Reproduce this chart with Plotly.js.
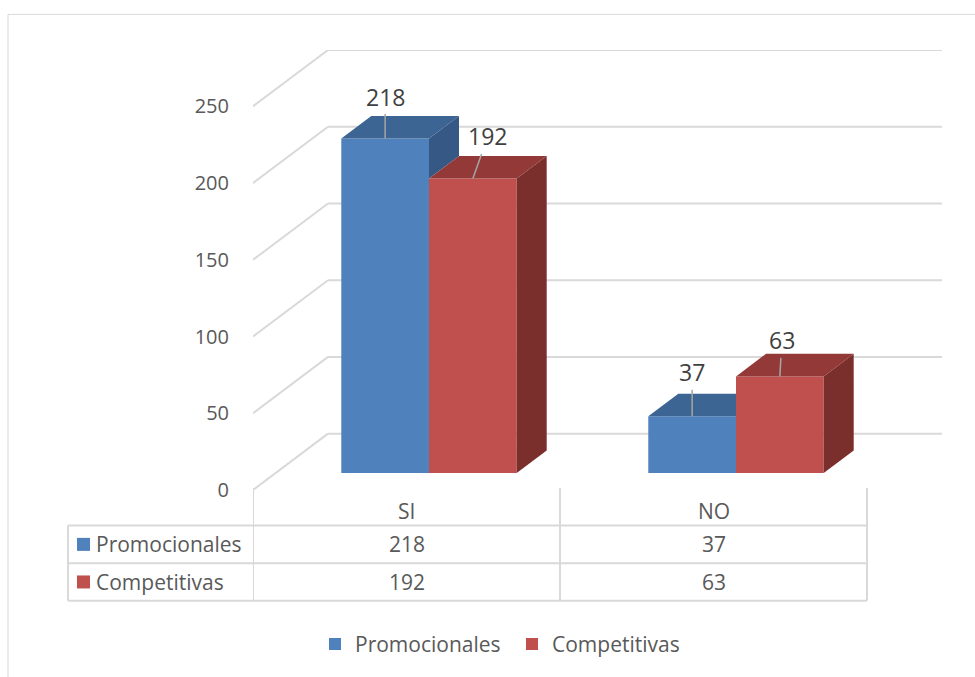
<!DOCTYPE html>
<html>
<head>
<meta charset="utf-8">
<script src="https://cdn.plot.ly/plotly-3.0.1.min.js"></script>
<style>html,body{margin:0;padding:0;background:#fff;}#chart{width:975px;height:677px;}</style>
</head>
<body>
<div id="chart"></div>
<script>
// ---- data ----
const categories = ['SI', 'NO'];
const seriesNames = ['Promocionales', 'Competitivas'];
const promocionales = [218, 37];
const competitivas = [192, 63];
const yTicks = [0, 50, 100, 150, 200, 250];

// ---- style / geometry ----
const seriesValues = [promocionales, competitivas];
const frontColors = ['#4F81BD', '#C0504D'];
const topColors = ['#3D6594', '#933A38'];
const sideColors = ['#355884', '#7B2F2D'];
const GRID = '#D9D9D9';
const TXT = '#595959';
const FONT = 'Open Sans, Noto Sans, sans-serif';
const K = 75 / 307;      // depth shift along x (category units)
const H = 57 / 1.552;    // depth shift along y (value units)
const D1 = 0.3, D2 = 0.7; // bar depth span
const BW = 1 / 3.5;      // bar width (gap width 150%)
const yMax = yTicks[yTicks.length - 1];
const labelOffsets = [[[0, -42], [0, -44]], [[15, -42], [2, -36]]]; // [series][category] (ax, ay)

const traces = [];
const polys = [];
const annotations = [];
const shapes = [];

// back wall & side wall grid (below traces)
yTicks.forEach(v => {
  shapes.push({type: 'line', xref: 'x', yref: 'y', layer: 'below', x0: K, y0: v + H, x1: categories.length + K, y1: v + H, line: {color: GRID, width: 2}});
  shapes.push({type: 'line', xref: 'x', yref: 'y', layer: 'below', x0: 0, y0: v, x1: K, y1: v + H, line: {color: GRID, width: 2}});
});

seriesNames.forEach((name, s) => {
  const xs = categories.map((c, i) => i + 0.5 - BW + s * BW + BW / 2 + D1 * K);
  traces.push({
    type: 'bar', name: name, x: xs, y: seriesValues[s], base: categories.map(() => D1 * H),
    width: BW, marker: {color: frontColors[s], line: {width: 0}}, hoverinfo: 'skip', showlegend: true
  });
});

function poly(pts, color) {
  polys.push({type: 'scatter', mode: 'lines', x: pts.map(p => p[0]).concat([pts[0][0]]), y: pts.map(p => p[1]).concat([pts[0][1]]),
    fill: 'toself', fillcolor: color, line: {width: 0, color: color}, hoverinfo: 'skip', showlegend: false});
}

categories.forEach((c, i) => {
  seriesNames.forEach((name, s) => {
    const v = seriesValues[s][i];
    const x0 = i + 0.5 - BW + s * BW, x1 = x0 + BW;
    const right = s + 1 < seriesNames.length ? seriesValues[s + 1][i] : null;
    // top face (clipped where the neighbour's front face hides it)
    if (right !== null && right > v) {
      poly([[x0 + D1 * K, v + D1 * H], [x1 + D1 * K, v + D1 * H], [x1 + D1 * K, v + D2 * H], [x0 + D2 * K, v + D2 * H]], topColors[s]);
    } else {
      poly([[x0 + D1 * K, v + D1 * H], [x1 + D1 * K, v + D1 * H], [x1 + D2 * K, v + D2 * H], [x0 + D2 * K, v + D2 * H]], topColors[s]);
    }
    // side face (visible part)
    const lo = right === null ? 0 : right;
    if (v > lo) {
      poly([[x1 + D1 * K, lo + D1 * H], [x1 + D2 * K, lo + D2 * H], [x1 + D2 * K, v + D2 * H], [x1 + D1 * K, v + D1 * H]], sideColors[s]);
    }
    // data label
    const off = labelOffsets[s][i];
    annotations.push({xref: 'x', yref: 'y', x: (x0 + x1) / 2 + D1 * K, y: v + D1 * H, text: String(v),
      showarrow: true, arrowhead: 0, arrowwidth: 1.5, arrowcolor: '#A6A6A6', ax: off[0], ay: off[1], standoff: 0,
      font: {family: FONT, size: 23, color: '#404040'}});
  });
});

// ---- data table ----
const plotH = 445, plotW = 689;
const pY = px => (495 - px) / plotH; // pixel row -> paper y
const pX = px => (px - 253) / plotW; // pixel col -> paper x
const rowLines = [531, 569, 607];
rowLines.forEach(r => shapes.push({type: 'line', xref: 'paper', yref: 'paper', x0: pX(68), x1: pX(867), y0: pY(r), y1: pY(r), line: {color: GRID, width: 2}}));
shapes.push({type: 'line', xref: 'paper', yref: 'paper', x0: pX(68), x1: pX(68), y0: pY(531), y1: pY(607), line: {color: GRID, width: 2}});
for (let i = 0; i <= categories.length; i++) {
  shapes.push({type: 'line', xref: 'x', yref: 'paper', x0: i, x1: i, y0: pY(493), y1: pY(607), line: {color: GRID, width: 2}});
}
const headerY = pY(516), rowY = [pY(550), pY(588)];
categories.forEach((c, i) => {
  annotations.push({xref: 'x', yref: 'paper', x: i + 0.5, y: headerY, xanchor: 'center', yanchor: 'middle', text: c, showarrow: false, font: {family: FONT, size: 21, color: TXT}});
  seriesNames.forEach((n, s) => {
    annotations.push({xref: 'x', yref: 'paper', x: i + 0.5, y: rowY[s], xanchor: 'center', yanchor: 'middle', text: String(seriesValues[s][i]), showarrow: false, font: {family: FONT, size: 21, color: TXT}});
  });
});
seriesNames.forEach((n, s) => {
  shapes.push({type: 'rect', xref: 'paper', yref: 'paper', xsizemode: 'pixel', ysizemode: 'pixel', xanchor: pX(83.5), yanchor: rowY[s],
    x0: -6.5, x1: 6.5, y0: -6.5, y1: 6.5, fillcolor: frontColors[s], line: {width: 0}});
  annotations.push({xref: 'paper', yref: 'paper', x: pX(94), xanchor: 'left', yanchor: 'middle', y: rowY[s], text: n, showarrow: false, font: {family: FONT, size: 21, color: TXT}});
});

// outer frame
shapes.push({type: 'rect', xref: 'paper', yref: 'paper', x0: pX(8), x1: pX(990), y0: pY(690), y1: pY(14), line: {color: GRID, width: 1}, layer: 'below'});

const layout = {
  width: 975, height: 677,
  margin: {l: 253, r: 33, t: 50, b: 182, pad: 0},
  paper_bgcolor: '#ffffff', plot_bgcolor: 'rgba(0,0,0,0)',
  barmode: 'overlay',
  xaxis: {range: [0, categories.length + K], showgrid: false, zeroline: false, showline: false, showticklabels: false, fixedrange: true},
  yaxis: {range: [0, yMax + H], tickvals: yTicks, ticktext: yTicks.map(String), showgrid: false, zeroline: false, showline: false,
    ticks: '', ticklabelstandoff: 23, tickfont: {family: FONT, size: 20, color: TXT}, fixedrange: true},
  showlegend: true,
  legend: {orientation: 'h', x: pX(315), xanchor: 'left', y: pY(651), yanchor: 'middle',
    entrywidth: 152, entrywidthmode: 'pixels', font: {family: FONT, size: 21, color: TXT}, bgcolor: 'rgba(0,0,0,0)'},
  shapes: shapes,
  annotations: annotations,
  hovermode: false
};

Plotly.newPlot('chart', traces.concat(polys), layout, {displayModeBar: false, staticPlot: true});
</script>
</body>
</html>
